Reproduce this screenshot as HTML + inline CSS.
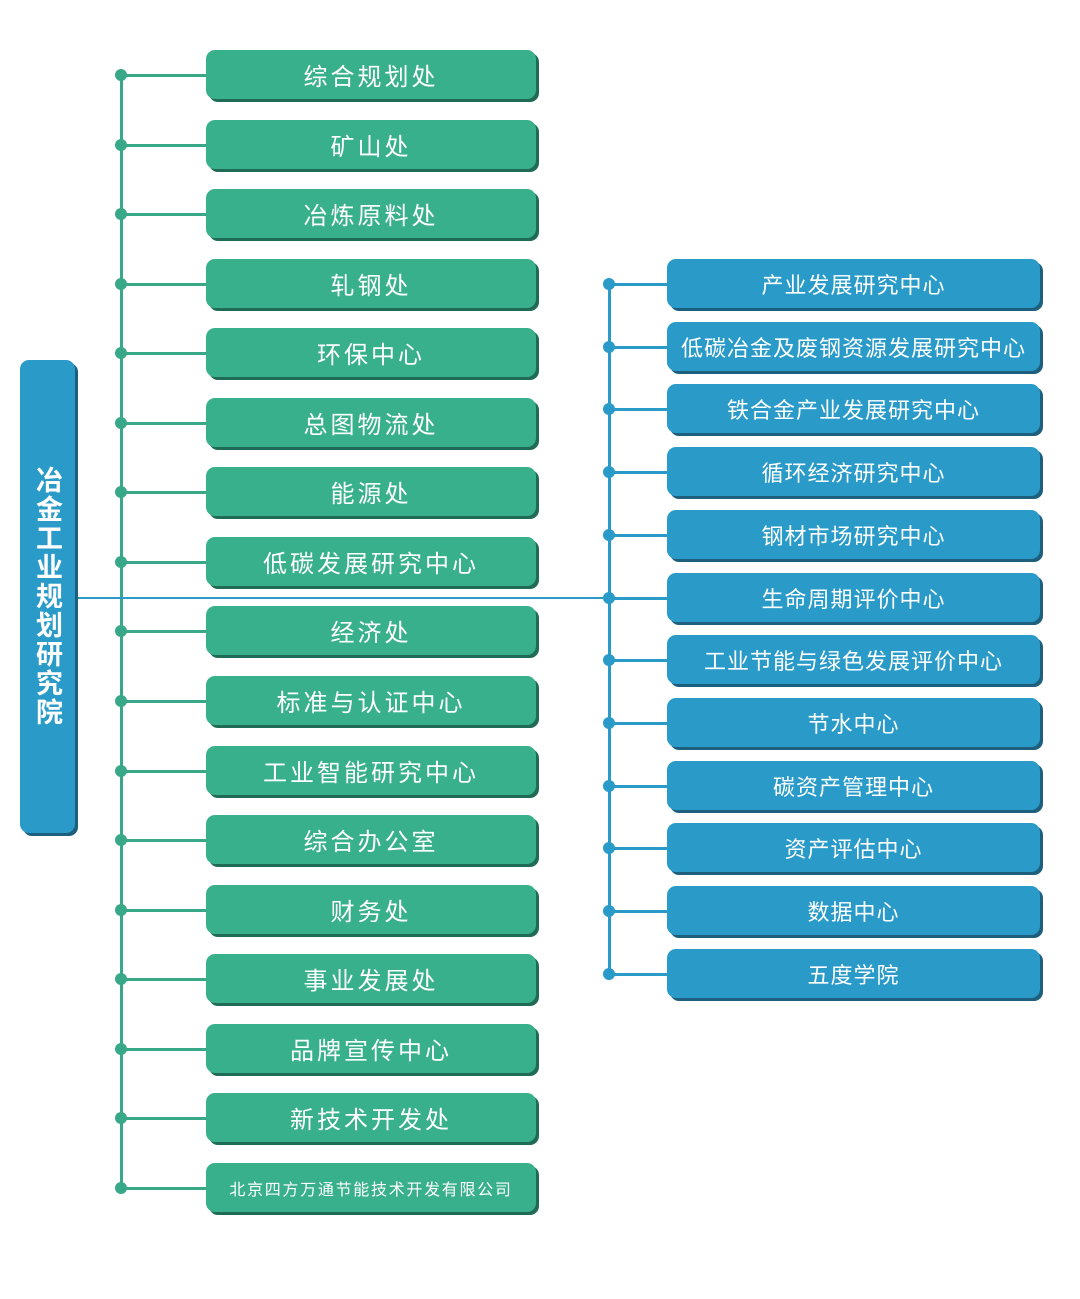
<!DOCTYPE html>
<html><head><meta charset="utf-8"><style>
body{margin:0;width:1080px;height:1299px;background:#fff;position:relative;overflow:hidden;font-family:"Liberation Sans","Noto Sans CJK SC",sans-serif;}
.b{position:absolute;border-radius:9px;color:#fff;display:flex;align-items:center;justify-content:center;box-sizing:border-box;white-space:nowrap;}
.g{left:206px;width:330px;height:49px;background:#39b08c;box-shadow:3px 3px 0 #1f6b55;font-size:24px;letter-spacing:3px;}
.u{left:667px;width:373px;height:49px;background:#2a9bc9;box-shadow:3px 3px 0 #1d5f7c;font-size:22px;letter-spacing:1px;}
.l{position:absolute;}
.d{position:absolute;width:12px;height:12px;border-radius:50%;}
</style></head><body>
<div class="b" style="left:20px;top:360px;width:55px;height:473px;background:#2a9bc9;box-shadow:3px 3px 0 #1d5f7c;font-size:27px;font-weight:bold;writing-mode:vertical-rl;letter-spacing:2px;">冶金工业规划研究院</div>
<div class="l" style="left:120px;top:74px;width:3px;height:1114px;background:#39a888"></div>
<div class="l" style="left:78px;top:597px;width:590px;height:2px;background:#2a9bc9"></div>
<div class="l" style="left:608px;top:284px;width:3px;height:690px;background:#2a9bc9"></div>
<div id="g"></div>
<script>
var G=["综合规划处","矿山处","冶炼原料处","轧钢处","环保中心","总图物流处","能源处","低碳发展研究中心","经济处","标准与认证中心","工业智能研究中心","综合办公室","财务处","事业发展处","品牌宣传中心","新技术开发处","北京四方万通节能技术开发有限公司"];
var B=["产业发展研究中心","低碳冶金及废钢资源发展研究中心","铁合金产业发展研究中心","循环经济研究中心","钢材市场研究中心","生命周期评价中心","工业节能与绿色发展评价中心","节水中心","碳资产管理中心","资产评估中心","数据中心","五度学院"];
var h="";
G.forEach(function(t,i){var c=Math.round(75+i*69.55);
h+='<div class="l" style="left:121px;top:'+(c-1)+'px;width:86px;height:3px;background:#39a888"></div><div class="d" style="left:115px;top:'+(c-6)+'px;background:#39a888"></div><div class="b g" style="top:'+(c-25)+'px;'+(i==16?'font-size:16px;letter-spacing:1.7px':'')+'">'+t+'</div>';});
B.forEach(function(t,i){var c=Math.round(284+i*62.7);
h+='<div class="l" style="left:609px;top:'+(c-1)+'px;width:59px;height:3px;background:#2a9bc9"></div><div class="d" style="left:603px;top:'+(c-6)+'px;background:#2a9bc9"></div><div class="b u" style="top:'+(c-25)+'px">'+t+'</div>';});
document.getElementById("g").innerHTML=h;
</script>
</body></html>
